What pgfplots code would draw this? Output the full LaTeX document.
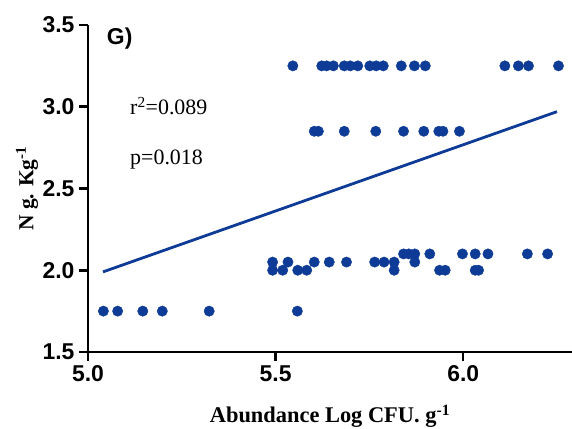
\documentclass[border=0pt]{standalone}
\usepackage{pgfplots}
\pgfplotsset{compat=1.18}
\usepackage{fontspec}
\setmainfont{Liberation Serif}
\setsansfont{Liberation Sans}
\definecolor{dotblue}{RGB}{13,59,150}
\begin{document}
\begin{tikzpicture}
\path[use as bounding box] (0,0) rectangle (572bp,429bp);
\begin{axis}[
  at={(88bp,77bp)}, anchor=south west,
  scale only axis, width=484bp, height=327bp,
  xmin=5.0, xmax=6.29, ymin=1.5, ymax=3.5,
  axis lines=left,
  axis line style={-, line width=2.6bp, black},
  xtick={5.0,5.5,6.0}, ytick={1.5,2.0,2.5,3.0,3.5},
  tick align=outside, major tick length=9bp,
  tick style={line width=2.6bp, black},
  /pgf/number format/assume math mode=true,
  /pgf/number format/.cd, fixed, fixed zerofill, precision=1, /pgfplots/.cd,
  tick label style={font=\fontsize{23}{23}\selectfont\bfseries\sffamily},
  yticklabel style={xshift=-1bp},
  xticklabel style={yshift=-1bp},
  clip=false,
  ylabel={N g. Kg\textsuperscript{-1}},
  ylabel style={at={(axis description cs:-0.126,0.5)}, anchor=center, font=\fontsize{21.5}{21.5}\selectfont\bfseries},
  xlabel={Abundance Log CFU. g\textsuperscript{-1}},
  xlabel style={at={(axis description cs:0.5,-0.217)}, anchor=base, font=\fontsize{22.5}{22.5}\selectfont\bfseries},
]
\addplot[only marks, mark=*, mark size=5.2pt, color=dotblue] coordinates {
(5.546,3.25) (5.623,3.25) (5.636,3.25) (5.654,3.25) (5.683,3.25) (5.699,3.25) (5.719,3.25) (5.751,3.25) (5.768,3.25) (5.787,3.25) (5.835,3.25) (5.870,3.25) (5.899,3.25) (6.111,3.25) (6.147,3.25) (6.174,3.25) (6.254,3.25)
(5.603,2.85) (5.614,2.85) (5.683,2.85) (5.767,2.85) (5.841,2.85) (5.895,2.85) (5.935,2.85) (5.946,2.85) (5.990,2.85)
(5.841,2.1) (5.855,2.1) (5.871,2.1) (5.911,2.1) (5.998,2.1) (6.032,2.1) (6.066,2.1) (6.171,2.1) (6.225,2.1)
(5.492,2.05) (5.533,2.05) (5.603,2.05) (5.643,2.05) (5.689,2.05) (5.764,2.05) (5.789,2.05) (5.816,2.05) (5.871,2.05)
(5.492,2.0) (5.519,2.0) (5.559,2.0) (5.583,2.0) (5.816,2.0) (5.937,2.0) (5.952,2.0) (6.032,2.0) (6.041,2.0)
(5.041,1.75) (5.079,1.75) (5.146,1.75) (5.198,1.75) (5.323,1.75) (5.558,1.75)
};
\addplot[no marks, line width=2.8bp, color=dotblue] coordinates {(5.04,1.99) (6.25,2.97)};
\node[anchor=base west, font=\fontsize{23}{23}\selectfont\bfseries\sffamily, inner sep=0pt] at (axis cs:5.05,3.378) {G)};
\node[anchor=base west, font=\fontsize{22}{22}\selectfont, inner sep=0pt] at (axis cs:5.112,2.95) {r\textsuperscript{2}=0.089};
\node[anchor=base west, font=\fontsize{22}{22}\selectfont, inner sep=0pt] at (axis cs:5.112,2.644) {p=0.018};
\end{axis}
\end{tikzpicture}
\end{document}
